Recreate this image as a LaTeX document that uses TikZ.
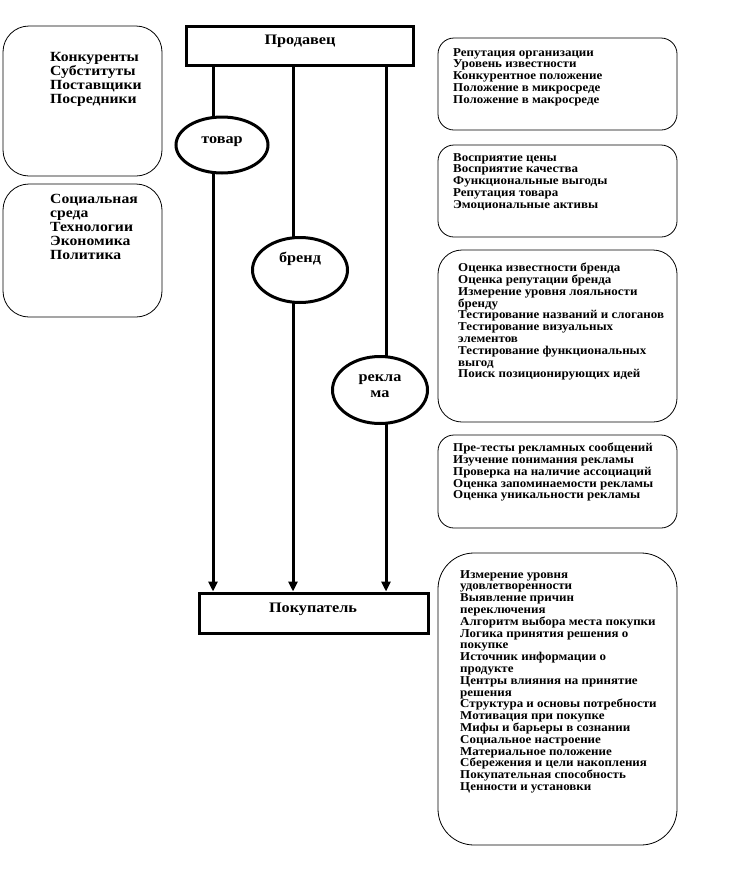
\documentclass[tikz,border=0pt]{standalone}
\usepackage{fontspec}
\setmainfont{Liberation Serif}
\newfontfamily\widefont[FakeStretch=1.12]{Liberation Serif}
\newfontfamily\midfont[FakeStretch=1.08]{Liberation Serif}
\usetikzlibrary{shapes.geometric,arrows.meta}
\begin{document}
\begin{tikzpicture}[x=1pt,y=-1pt,
  infobox/.style={draw=black,line width=0.8pt,rounded corners=#1},
  infobox/.default=18pt,
  mainbox/.style={draw=black,line width=3pt,fill=white,inner sep=0pt},
  oval/.style={draw=black,line width=3pt,ellipse,fill=white,inner sep=0pt},
  flow/.style={line width=3pt,-{Triangle[width=9pt,length=10pt]}},
  bigtext/.style={anchor=north west,align=left,inner sep=0pt,font=\widefont\bfseries\fontsize{14}{14}\selectfont},
  smalltext/.style={anchor=north west,align=left,inner sep=0pt,font=\midfont\bfseries\fontsize{12}{11.8}\selectfont},
  lbl/.style={inner sep=0pt,align=center,font=\widefont\bfseries\fontsize{14.5}{16}\selectfont}]
\useasboundingbox (0,0) rectangle (729,884);

% left boxes
\draw[infobox=26pt] (3,26) rectangle (162,176);
\node[bigtext] (l1) at (50,52) {Конкуренты\\Субституты\\Поставщики\\Посредники};
\draw[infobox=26pt] (3,184) rectangle (162,317);
\node[bigtext] (l2) at (50,194) {Социальная\\среда\\Технологии\\Экономика\\Политика};

% main boxes
\node[mainbox,minimum width=227pt,minimum height=39pt] (prod) at (299.5,45.5) {};
\node[lbl] (prodt) at (300,41) {Продавец};
\node[mainbox,minimum width=229pt,minimum height=40pt] (pok) at (313.5,613) {};
\node[lbl] (pokt) at (313,609) {Покупатель};

% connectors
\draw[flow] (prod.south -| 213,0) -- (pok.north -| 213,0);
\draw[flow] (prod.south -| 293,0) -- (pok.north -| 293,0);
\draw[flow] (prod.south -| 386,0) -- (pok.north -| 386,0);

% ellipses
\node[oval,minimum width=92pt,minimum height=56pt] (tovar) at (222,145) {};
\node[lbl] (tovart) at (222,142) {товар};
\node[oval,minimum width=95pt,minimum height=65pt] (brend) at (300,270) {};
\node[lbl] (brendt) at (300,259) {бренд};
\node[oval,minimum width=95pt,minimum height=67pt] (rekl) at (380,390) {};
\node[lbl] (reklt) at (380,386) {рекла\\ма};

% right boxes
\draw[infobox=16pt] (438,38) rectangle (677,130);
\node[smalltext] (r1) at (453,48) {Репутация организации\\Уровень известности\\Конкурентное положение\\Положение в микросреде\\Положение в макросреде};
\draw[infobox=16pt] (438,145) rectangle (677,237);
\node[smalltext] (r2) at (453,153) {Восприятие цены\\Восприятие качества\\Функциональные выгоды\\Репутация товара\\Эмоциональные активы};
\draw[infobox=24pt] (438,250) rectangle (677,422);
\node[smalltext] (r3) at (458,263) {Оценка известности бренда\\Оценка репутации бренда\\Измерение уровня лояльности\\бренду\\Тестирование названий и слоганов\\Тестирование визуальных\\элементов\\Тестирование функциональных\\выгод\\Поиск позиционирующих идей};
\draw[infobox=16pt] (438,435) rectangle (677,528);
\node[smalltext] (r4) at (453,443) {Пре-тесты рекламных сообщений\\Изучение понимания рекламы\\Проверка на наличие ассоциаций\\Оценка запоминаемости рекламы\\Оценка уникальности рекламы};
\draw[infobox=36pt] (438,553) rectangle (677,845);
\node[smalltext] (r5) at (460,570) {Измерение уровня\\удовлетворенности\\Выявление причин\\переключения\\Алгоритм выбора места покупки\\Логика принятия решения о\\покупке\\Источник информации о\\продукте\\Центры влияния на принятие\\решения\\Структура и основы потребности\\Мотивация при покупке\\Мифы и барьеры в сознании\\Социальное настроение\\Материальное положение\\Сбережения и цели накопления\\Покупательная способность\\Ценности и установки};
\end{tikzpicture}
\end{document}
